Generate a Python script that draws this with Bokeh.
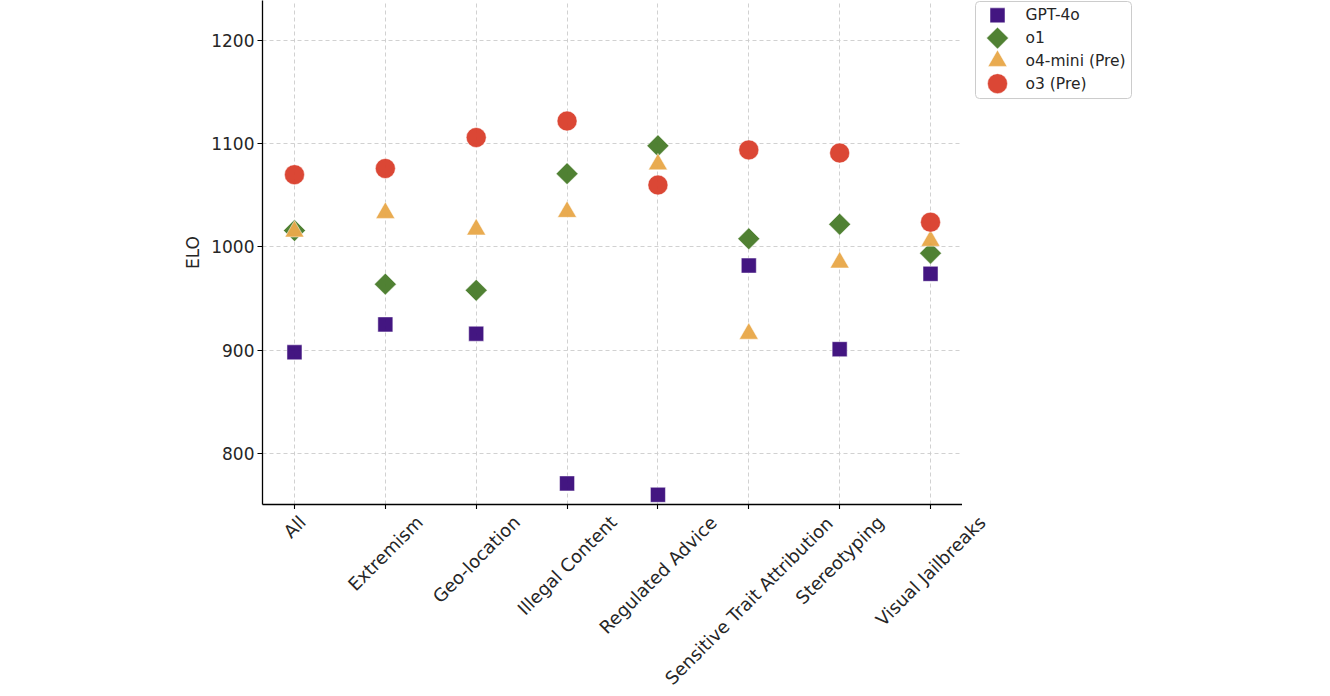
import math
from bokeh.plotting import figure
from bokeh.models import Range1d, FixedTicker
from bokeh.layouts import column, row
from bokeh.core.properties import value
from bokeh.embed import file_html
from bokeh.resources import INLINE

categories = ["All", "Extremism", "Geo-location", "Illegal Content", "Regulated Advice",
              "Sensitive Trait Attribution", "Stereotyping", "Visual Jailbreaks"]
series_names = ["GPT-4o", "o1", "o4-mini (Pre)", "o3 (Pre)"]
gpt4o = [898, 925, 916, 771, 760, 982, 901, 974]
o1 = [1016, 964, 958, 1071, 1098, 1008, 1022, 994]
o4mini = [1015, 1033, 1017, 1034, 1080, 916, 985, 1006]
o3 = [1070, 1076, 1106, 1122, 1060, 1094, 1091, 1024]
y_ticks = [800, 900, 1000, 1100, 1200]

colors = ["#3d0e7d", "#4a7d2c", "#e8a84a", "#da412e"]
markers = ["square", "square", "triangle", "circle"]
angles = [0, math.pi / 4, 0, 0]
sizes = [15, 15.5, 19, 20]
FONT = "DejaVu Sans"
XFS = 18.0  # x tick label font size (px)

# approximate DejaVu Sans advance widths (em) used to centre rotated labels like matplotlib
_W = {"A": .684, "C": .698, "E": .632, "G": .775, "I": .295, "J": .295, "R": .695, "S": .635,
      "T": .611, "V": .684, "a": .613, "b": .635, "c": .550, "d": .635, "e": .615, "g": .635,
      "i": .278, "k": .579, "l": .278, "m": .974, "n": .634, "o": .612, "p": .635, "r": .411,
      "s": .521, "t": .392, "u": .634, "v": .592, "x": .592, "y": .592, "-": .361, " ": .318}

xs = list(range(len(categories)))
FL, FW, FH = 262, 700, 504          # frame left, width, height (px)
X0, X1 = -0.352, len(categories) - 1 + 0.352
TOTAL_W = 1312

series = [gpt4o, o1, o4mini, o3]

p = figure(frame_width=FW, frame_height=FH, output_backend="svg", toolbar_location=None,
           x_range=Range1d(X0, X1), y_range=Range1d(750.6, 1238.7),
           min_border_left=FL, min_border_top=0, min_border_right=0, min_border_bottom=0)
p.outline_line_color = None

p.xaxis.ticker = FixedTicker(ticks=xs)
p.xaxis.major_label_overrides = {i: "" for i in xs}
p.xaxis.major_label_standoff = 0
p.yaxis.ticker = FixedTicker(ticks=y_ticks)
for ax in (p.xaxis, p.yaxis):
    ax.axis_line_color = "black"
    ax.axis_line_width = 1.3
    ax.major_tick_line_color = "black"
    ax.major_tick_line_width = 1.1
    ax.major_tick_out = 5
    ax.major_tick_in = 0
    ax.minor_tick_line_color = None
    ax.major_label_text_font = FONT
    ax.major_label_text_color = "#262626"
p.yaxis.major_label_text_font_size = "17px"
p.yaxis.major_label_standoff = 3
p.yaxis.axis_label = "ELO"
p.yaxis.axis_label_text_font = FONT
p.yaxis.axis_label_text_font_size = "17px"
p.yaxis.axis_label_text_font_style = "normal"
p.yaxis.axis_label_text_color = "#262626"
p.yaxis.axis_label_standoff = 5

for g in (p.xgrid, p.ygrid):
    g.grid_line_color = "#cccccc"
    g.grid_line_dash = "4 3"
    g.grid_line_width = 0.9

for vals, c, m, a, s in zip(series, colors, markers, angles, sizes):
    p.scatter(xs, vals, marker=m, angle=a, size=s, fill_color=c, line_color="white",
              line_width=0.5, fill_alpha=0.97)

# legend panel (to the right of the plot), drawn in pixel coordinates
LW = TOTAL_W - FL - FW
leg = figure(width=LW, height=FH, output_backend="svg", toolbar_location=None,
             x_range=Range1d(0, LW), y_range=Range1d(-FH, 0), min_border=0,
             x_axis_location=None, y_axis_location=None)
leg.outline_line_color = None
leg.xgrid.visible = False
leg.ygrid.visible = False
leg.quad(left=[13], right=[169], top=[-1], bottom=[-99], fill_color="white",
         line_color="#cccccc", line_width=1, border_radius=4)
row_y = [-15 - 23 * i for i in range(len(series_names))]
for i, (c, m, a, s) in enumerate(zip(colors, markers, angles, sizes)):
    leg.scatter([35], [row_y[i]], marker=m, angle=a, size=s, fill_color=c,
                line_color="white", line_width=0.5, fill_alpha=0.97)
leg.text(x=[63] * len(series_names), y=row_y, text=series_names, text_align="left",
         text_baseline="middle", text_font=value(FONT), text_font_size="15.5px",
         text_color="#262626")

# category labels, rotated 45 deg with their bounding box centred under each tick
LH = 185
k = (X1 - X0) / FW
lab = figure(width=TOTAL_W, height=LH, output_backend="svg", toolbar_location=None,
             x_range=Range1d(X0 - FL * k, X0 + (TOTAL_W - FL) * k), y_range=Range1d(-LH, 0),
             min_border=0, x_axis_location=None, y_axis_location=None)
lab.outline_line_color = None
lab.xgrid.visible = False
lab.ygrid.visible = False
h = 1.164 * XFS
lab_y = []
for c in categories:
    L = sum(_W.get(ch, 0.6) for ch in c) * XFS
    lab_y.append(-(2 + (L + h) * math.sqrt(0.5) / 2))
lab.text(x=xs, y=lab_y, text=categories, angle=math.pi / 4, text_align="center",
         text_baseline="middle", text_font=value(FONT), text_font_size=f"{XFS}px",
         text_color="#262626")

layout = column(row(p, leg, spacing=0), lab, spacing=0)
open("out.html", "w").write(file_html(layout, INLINE))
